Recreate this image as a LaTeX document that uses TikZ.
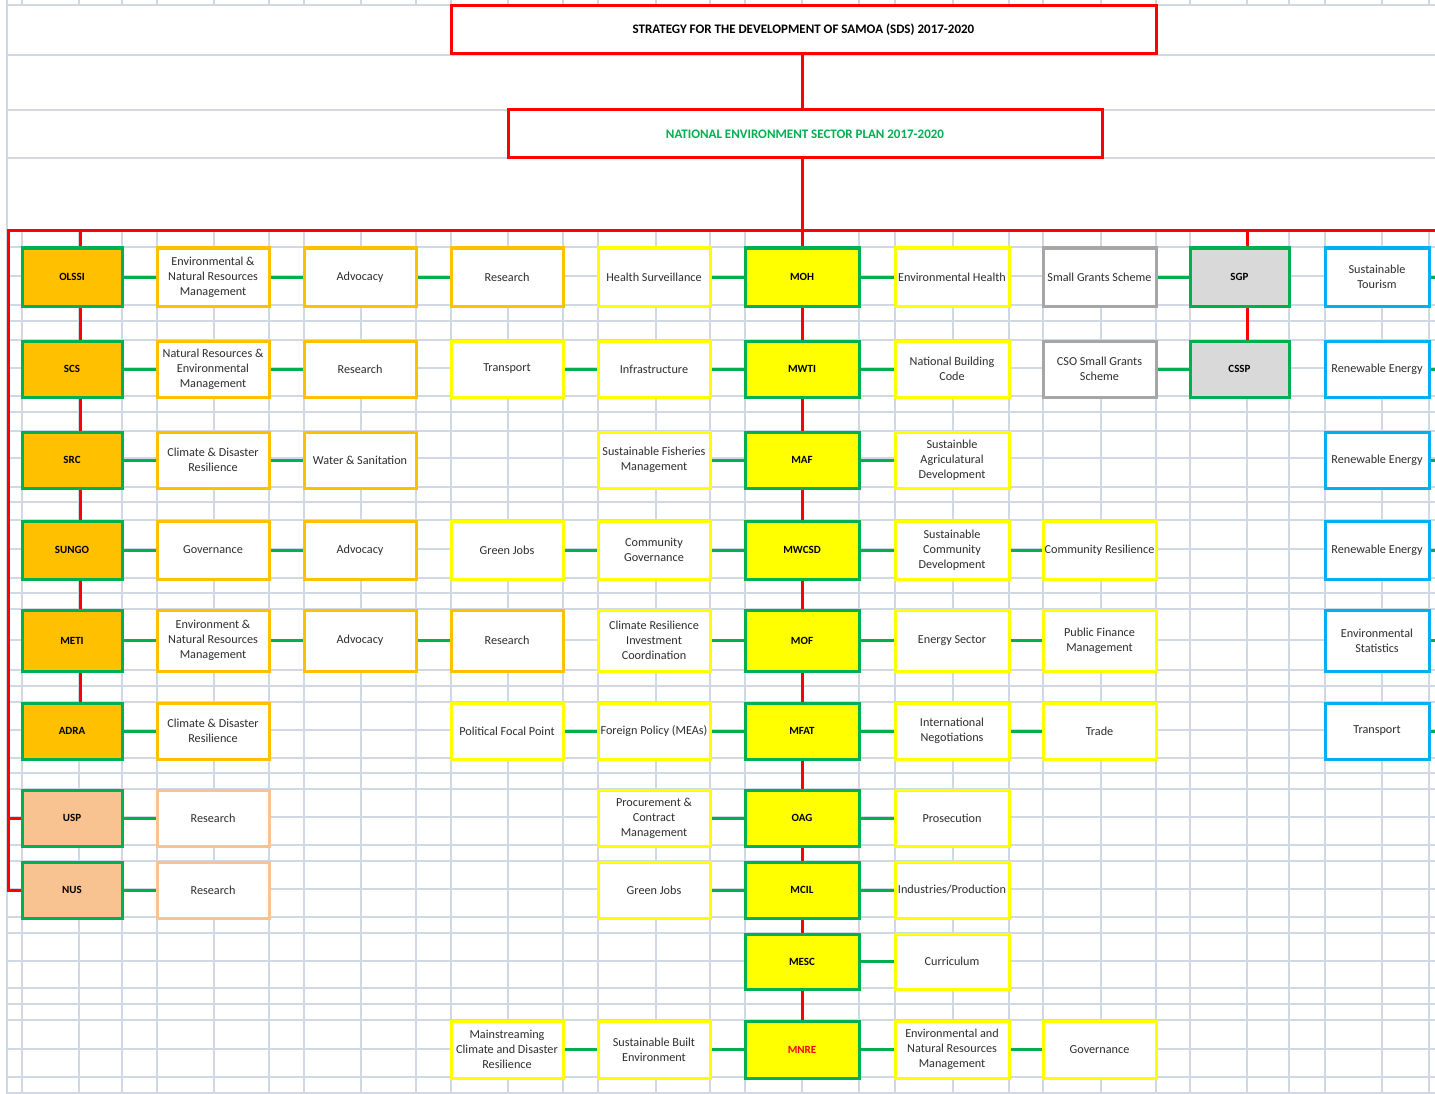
\documentclass[tikz,border=0pt]{standalone}
\usepackage{fontspec}
\setmainfont{Carlito}
\definecolor{gridc}{HTML}{D0D7E5}
\definecolor{xred}{HTML}{FF0000}
\definecolor{xgreen}{HTML}{00B050}
\definecolor{xorange}{HTML}{FFC000}
\definecolor{xyellow}{HTML}{FFFF00}
\definecolor{xpeach}{HTML}{F8C390}
\definecolor{xgrayfill}{HTML}{D9D9D9}
\definecolor{xgrayline}{HTML}{A6A6A6}
\definecolor{xblue}{HTML}{00B0F0}
\def\clA{22}\def\crA{122}
\def\clB{157}\def\crB{269}
\def\clC{304}\def\crC{416}
\def\clD{451}\def\crD{563}
\def\clE{598}\def\crE{710}
\def\clF{745}\def\crF{859}
\def\clG{895}\def\crG{1009}
\def\clH{1043}\def\crH{1156}
\def\clI{1190}\def\crI{1289}
\def\clJ{1325}\def\crJ{1429}
\expandafter\def\csname rt1\endcsname{247}\expandafter\def\csname rb1\endcsname{305}
\expandafter\def\csname rt2\endcsname{340}\expandafter\def\csname rb2\endcsname{396}
\expandafter\def\csname rt3\endcsname{431}\expandafter\def\csname rb3\endcsname{487}
\expandafter\def\csname rt4\endcsname{520}\expandafter\def\csname rb4\endcsname{578}
\expandafter\def\csname rt5\endcsname{609}\expandafter\def\csname rb5\endcsname{670}
\expandafter\def\csname rt6\endcsname{702}\expandafter\def\csname rb6\endcsname{758}
\expandafter\def\csname rt7\endcsname{789}\expandafter\def\csname rb7\endcsname{845}
\expandafter\def\csname rt8\endcsname{861}\expandafter\def\csname rb8\endcsname{917}
\expandafter\def\csname rt9\endcsname{933}\expandafter\def\csname rb9\endcsname{988}
\expandafter\def\csname rt10\endcsname{1020}\expandafter\def\csname rb10\endcsname{1077}
\newcommand\bx[5]{%
  \pgfmathsetmacro\mybw{\csname cr#2\endcsname-\csname cl#2\endcsname}%
  \pgfmathsetmacro\mybh{\csname rb#3\endcsname-\csname rt#3\endcsname}%
  \pgfmathsetmacro\mybx{(\csname cr#2\endcsname+\csname cl#2\endcsname)/2}%
  \pgfmathsetmacro\myby{(\csname rb#3\endcsname+\csname rt#3\endcsname)/2+1}%
  \node[#4, minimum width=\mybw pt, minimum height=\mybh pt] (#1) at (\mybx,\myby) {#5};%
}
\tikzset{
  cellbox/.style={draw, line width=3pt, fill=white, inner sep=0pt, align=center,
    font=\fontsize{12.2}{15}\selectfont, text=black!82},
  orgbox/.style={cellbox, draw=xorange},
  ylwbox/.style={cellbox, draw=xyellow},
  pchbox/.style={cellbox, draw=xpeach},
  grybox/.style={cellbox, draw=xgrayline},
  blubox/.style={cellbox, draw=xblue},
  mainbox/.style={cellbox, draw=xgreen, font=\fontsize{11}{13}\selectfont\bfseries, text=black},
  mainorg/.style={mainbox, fill=xorange},
  mainylw/.style={mainbox, fill=xyellow},
  mainpch/.style={mainbox, fill=xpeach},
  maingry/.style={mainbox, fill=xgrayfill},
  topbox/.style={draw=xred, line width=3pt, fill=white, inner sep=0pt,
    font=\fontsize{13}{15}\selectfont\bfseries},
  gl/.style={draw=xgreen, line width=3pt},
  rl/.style={draw=xred, line width=3pt},
  gridln/.style={draw=gridc, line width=1.3pt}
}
\begin{document}
\begin{tikzpicture}[x=1pt,y=-1pt]
\useasboundingbox (0,0) rectangle (1435,1094);
\fill[white] (0,0) rectangle (1435,1094);
% grid
\foreach \x in {22,79,122,157,214,269,304,361,416,451,508,563,598,656,710,745,802,859,895,953,1009,1043,1101,1156,1190,1247,1289,1325,1382,1429}{
  \draw[gridln] (\x,0) -- (\x,5);
  \draw[gridln] (\x,231) -- (\x,1094);
}
\draw[gridln] (7,0) -- (7,1094);
\foreach \y in {5,55,110,158,247,276,305,321,340,368,396,412,431,458,487,502,520,549,578,593,609,640,670,686,702,730,758,773,789,817,845,861,889,917,933,961,988,1004,1020,1049,1077,1093}{
  \draw[gridln] (7,\y) -- (1435,\y);
}
% coordinates
\coordinate (hl) at (8,231);
\coordinate (hr) at (1435,231);
\coordinate (cx) at (802,0);
\coordinate (ax) at (80,231);
\coordinate (ix) at (1247,231);
\coordinate (redge) at (1435,0);
% top boxes
\node[topbox, minimum width=705pt, minimum height=48pt, text=black] (sds) at (803.5,30) {STRATEGY FOR THE DEVELOPMENT OF SAMOA (SDS) 2017-2020};
\node[topbox, minimum width=594pt, minimum height=48pt, text=xgreen] (nesp) at (805,134) {NATIONAL ENVIRONMENT SECTOR PLAN 2017-2020};
% row 1
\bx{olssi}{A}{1}{mainorg}{OLSSI}
\bx{b1}{B}{1}{orgbox}{Environmental \&\\Natural Resources\\Management}
\bx{c1}{C}{1}{orgbox}{Advocacy}
\bx{d1}{D}{1}{orgbox}{Research}
\bx{e1}{E}{1}{ylwbox}{Health Surveillance}
\bx{moh}{F}{1}{mainylw}{MOH}
\bx{g1}{G}{1}{ylwbox}{Environmental Health}
\bx{h1}{H}{1}{grybox}{Small Grants Scheme}
\bx{sgp}{I}{1}{maingry}{SGP}
\bx{j1}{J}{1}{blubox}{Sustainable\\Tourism}
% row 2
\bx{scs}{A}{2}{mainorg}{SCS}
\bx{b2}{B}{2}{orgbox}{Natural Resources \&\\Environmental\\Management}
\bx{c2}{C}{2}{orgbox}{Research}
\bx{d2}{D}{2}{ylwbox}{Transport}
\bx{e2}{E}{2}{ylwbox}{Infrastructure}
\bx{mwti}{F}{2}{mainylw}{MWTI}
\bx{g2}{G}{2}{ylwbox}{National Building\\Code}
\bx{h2}{H}{2}{grybox}{CSO Small Grants\\Scheme}
\bx{cssp}{I}{2}{maingry}{CSSP}
\bx{j2}{J}{2}{blubox}{Renewable Energy}
% row 3
\bx{src}{A}{3}{mainorg}{SRC}
\bx{b3}{B}{3}{orgbox}{Climate \& Disaster\\Resilience}
\bx{c3}{C}{3}{orgbox}{Water \& Sanitation}
\bx{e3}{E}{3}{ylwbox}{Sustainable Fisheries\\Management}
\bx{maf}{F}{3}{mainylw}{MAF}
\bx{g3}{G}{3}{ylwbox}{Sustainble\\Agriculatural\\Development}
\bx{j3}{J}{3}{blubox}{Renewable Energy}
% row 4
\bx{sungo}{A}{4}{mainorg}{SUNGO}
\bx{b4}{B}{4}{orgbox}{Governance}
\bx{c4}{C}{4}{orgbox}{Advocacy}
\bx{d4}{D}{4}{ylwbox}{Green Jobs}
\bx{e4}{E}{4}{ylwbox}{Community\\Governance}
\bx{mwcsd}{F}{4}{mainylw}{MWCSD}
\bx{g4}{G}{4}{ylwbox}{Sustainable\\Community\\Development}
\bx{h4}{H}{4}{ylwbox}{Community Resilience}
\bx{j4}{J}{4}{blubox}{Renewable Energy}
% row 5
\bx{meti}{A}{5}{mainorg}{METI}
\bx{b5}{B}{5}{orgbox}{Environment \&\\Natural Resources\\Management}
\bx{c5}{C}{5}{orgbox}{Advocacy}
\bx{d5}{D}{5}{orgbox}{Research}
\bx{e5}{E}{5}{ylwbox}{Climate Resilience\\Investment\\Coordination}
\bx{mof}{F}{5}{mainylw}{MOF}
\bx{g5}{G}{5}{ylwbox}{Energy Sector}
\bx{h5}{H}{5}{ylwbox}{Public Finance\\Management}
\bx{j5}{J}{5}{blubox}{Environmental\\Statistics}
% row 6
\bx{adra}{A}{6}{mainorg}{ADRA}
\bx{b6}{B}{6}{orgbox}{Climate \& Disaster\\Resilience}
\bx{d6}{D}{6}{ylwbox}{Political Focal Point}
\bx{e6}{E}{6}{ylwbox}{Foreign Policy (MEAs)}
\bx{mfat}{F}{6}{mainylw}{MFAT}
\bx{g6}{G}{6}{ylwbox}{International\\Negotiations}
\bx{h6}{H}{6}{ylwbox}{Trade}
\bx{j6}{J}{6}{blubox}{Transport}
% row 7
\bx{usp}{A}{7}{mainpch}{USP}
\bx{b7}{B}{7}{pchbox}{Research}
\bx{e7}{E}{7}{ylwbox}{Procurement \&\\Contract\\Management}
\bx{oag}{F}{7}{mainylw}{OAG}
\bx{g7}{G}{7}{ylwbox}{Prosecution}
% row 8
\bx{nus}{A}{8}{mainpch}{NUS}
\bx{b8}{B}{8}{pchbox}{Research}
\bx{e8}{E}{8}{ylwbox}{Green Jobs}
\bx{mcil}{F}{8}{mainylw}{MCIL}
\bx{g8}{G}{8}{ylwbox}{Industries/Production}
% row 9
\bx{mesc}{F}{9}{mainylw}{MESC}
\bx{g9}{G}{9}{ylwbox}{Curriculum}
% row 10
\bx{d10}{D}{10}{ylwbox}{Mainstreaming\\Climate and Disaster\\Resilience}
\bx{e10}{E}{10}{ylwbox}{Sustainable Built\\Environment}
\bx{mnre}{F}{10}{mainylw, text=xred}{MNRE}
\bx{g10}{G}{10}{ylwbox}{Environmental and\\Natural Resources\\Management}
\bx{h10}{H}{10}{ylwbox}{Governance}
% red hierarchy lines
\draw[rl] (sds.south -| cx) -- (nesp.north -| cx);
\draw[rl] (nesp.south -| cx) -- (moh.north);
\draw[rl] (hr) -- (hl) -- (hl |- nus.west) -- (nus.west);
\draw[rl] (hl |- usp.west) -- (usp.west);
\draw[rl] (ax) -- (ax |- olssi.north);
\foreach \u/\v in {olssi/scs,scs/src,src/sungo,sungo/meti,meti/adra}
  \draw[rl] (ax |- \u.south) -- (ax |- \v.north);
\draw[rl] (ix) -- (ix |- sgp.north);
\draw[rl] (ix |- sgp.south) -- (ix |- cssp.north);
\foreach \u/\v in {moh/mwti,mwti/maf,maf/mwcsd,mwcsd/mof,mof/mfat,mfat/oag,oag/mcil,mcil/mesc,mesc/mnre}
  \draw[rl] (\u.south) -- (\v.north);
% green links
\foreach \u/\v in {olssi/b1,b1/c1,c1/d1,e1/moh,moh/g1,h1/sgp,
                   scs/b2,b2/c2,d2/e2,e2/mwti,mwti/g2,h2/cssp,
                   src/b3,b3/c3,e3/maf,maf/g3,
                   sungo/b4,b4/c4,d4/e4,e4/mwcsd,mwcsd/g4,g4/h4,
                   meti/b5,b5/c5,c5/d5,e5/mof,mof/g5,g5/h5,
                   adra/b6,d6/e6,e6/mfat,mfat/g6,g6/h6,
                   usp/b7,e7/oag,oag/g7,
                   nus/b8,e8/mcil,mcil/g8,
                   mesc/g9,
                   d10/e10,e10/mnre,mnre/g10,g10/h10}
  \draw[gl] (\u.east) -- (\v.west);
\foreach \u in {j1,j2,j3,j4,j5,j6}
  \draw[gl] (\u.east) -- (\u.east -| redge);
\end{tikzpicture}
\end{document}
